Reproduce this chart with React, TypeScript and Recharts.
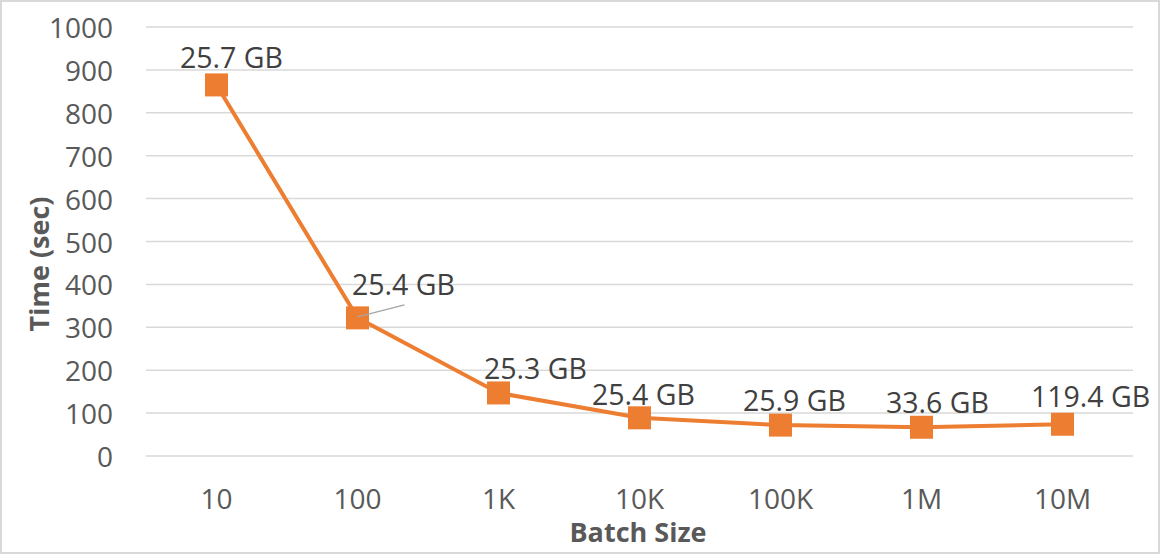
import React from 'react';
import { LineChart, Line, XAxis, YAxis, CartesianGrid } from 'recharts';

const categories = ['10', '100', '1K', '10K', '100K', '1M', '10M'];
const timeSec = [865, 322, 147, 89, 72, 67, 74];
const memoryLabels = ['25.7 GB', '25.4 GB', '25.3 GB', '25.4 GB', '25.9 GB', '33.6 GB', '119.4 GB'];
const yTicks = [0, 100, 200, 300, 400, 500, 600, 700, 800, 900, 1000];

const labelDx = [15, 46, 37, 4, 14, 16, 28];
const labelDy = [-28, -34, -25, -24, -25, -25, -28];

const data = categories.map((c, i) => ({ batch: c, time: timeSec[i], mem: memoryLabels[i] }));

const FONT = '"Open Sans", "Segoe UI", sans-serif';
const ORANGE = '#ED7D31';

const SquareDot = (props: any) => {
  const { cx, cy, index } = props;
  if (cx == null || cy == null) return null;
  return <rect key={`d${index}`} x={cx - 11.5} y={cy - 11.5} width={23} height={23} fill={ORANGE} />;
};

const DataLabel = (props: any) => {
  const { x, y, index } = props;
  const lx = x + labelDx[index];
  const ly = y + labelDy[index];
  return (
    <g key={`l${index}`}>
      {index === 1 && (
        <line x1={x} y1={y - 1} x2={x + 47} y2={y - 13} stroke="#A6A6A6" strokeWidth={1.5} />
      )}
      <text x={lx} y={ly} textAnchor="middle" dominantBaseline="central" fill="#404040" fontSize={28.5} fontFamily={FONT}>
        {memoryLabels[index]}
      </text>
    </g>
  );
};

const YTick = (props: any) => {
  const { y, payload } = props;
  return (
    <text x={113} y={y} textAnchor="end" dominantBaseline="central" fill="#595959" fontSize={28} fontFamily={FONT}>
      {payload.value}
    </text>
  );
};

const XTick = (props: any) => {
  const { x, payload } = props;
  return (
    <text x={x} y={498} textAnchor="middle" dominantBaseline="central" fill="#595959" fontSize={28} fontFamily={FONT}>
      {payload.value}
    </text>
  );
};

export default function App() {
  return (
    <div style={{ position: 'absolute', left: 0, top: 0, width: 1160, height: 554, background: '#fff' }}>
      <LineChart width={1160} height={554} data={data} margin={{ top: 27, right: 27, bottom: 0, left: 0 }}>
        <CartesianGrid vertical={false} stroke="#D9D9D9" strokeWidth={1.5} />
        <XAxis
          dataKey="batch"
          axisLine={false}
          tickLine={false}
          tick={<XTick />}
          interval={0}
          height={98}
          padding={{ left: 70.5, right: 70.5 }}
        />
        <YAxis
          domain={[0, 1000]}
          ticks={yTicks}
          axisLine={false}
          tickLine={false}
          tick={<YTick />}
          width={146}
          interval={0}
        />
        <Line
          type="linear"
          dataKey="time"
          stroke={ORANGE}
          strokeWidth={4}
          dot={<SquareDot />}
          activeDot={false}
          isAnimationActive={false}
          label={<DataLabel />}
        />
        <text x={38} y={264} transform="rotate(-90 38 264)" textAnchor="middle" dominantBaseline="central" fill="#595959" fontSize={27} fontWeight="bold" fontFamily={FONT}>
          Time (sec)
        </text>
        <text x={638} y={531} textAnchor="middle" dominantBaseline="central" fill="#595959" fontSize={27} fontWeight="bold" fontFamily={FONT}>
          Batch Size
        </text>
      </LineChart>
      <div style={{ position: 'absolute', left: 0, top: 0, width: 1160, height: 554, boxSizing: 'border-box', border: '2px solid #D9D9D9', pointerEvents: 'none' }} />
    </div>
  );
}
